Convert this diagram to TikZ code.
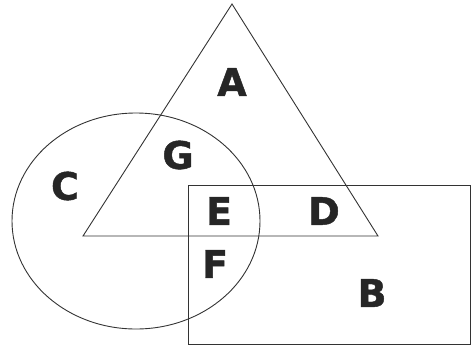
\documentclass[tikz,border=0pt]{standalone}
\usepackage{fontspec}
\newfontfamily\regionfont{DejaVu Sans}[BoldFeatures={FakeBold=1.2}]
\definecolor{outline}{HTML}{333333}
\definecolor{lettergray}{HTML}{262626}
\tikzset{
  region/.style={font=\regionfont\bfseries\fontsize{38}{38}\selectfont,
                 text=lettergray, inner sep=0pt, anchor=center},
  setline/.style={draw=outline, line width=0.9pt},
}

\begin{document}
\begin{tikzpicture}[x=1pt, y=-1pt]
    \useasboundingbox (0,0) rectangle (474,349);
    % sets
    \draw[setline] (232,4) -- (378,236) -- (83,236) -- cycle;
    \draw[setline] (136,221) ellipse [x radius=124, y radius=108];
    \draw[setline] (188,185) rectangle (470,344);
    % region letters
    \node[region] (a) at (232, 82) {A};
    \node[region] (g) at (178,155) {G};
    \node[region] (c) at (65, 186) {C};
    \node[region] (e) at (219,211) {E};
    \node[region] (d) at (324,211) {D};
    \node[region] (f) at (215,264) {F};
    \node[region] (b) at (372,293) {B};
  \end{tikzpicture}
\end{document}
